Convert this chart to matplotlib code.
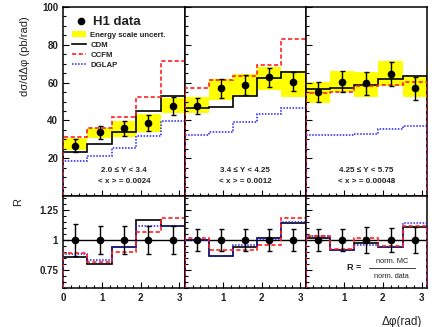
import numpy as np
import matplotlib
matplotlib.use("Agg")
import matplotlib.pyplot as plt
from matplotlib.lines import Line2D
from matplotlib.patches import Patch
from matplotlib.ticker import MultipleLocator

plt.rcParams['font.family'] = ['Liberation Sans', 'DejaVu Sans']
plt.rcParams['font.weight'] = 'bold'

# Data
phi_edges = [0.0, 0.628, 1.257, 1.885, 2.513, 3.142]
phi_centres = [0.314, 0.942, 1.571, 2.199, 2.827]

y_ranges = ["2.0 \u2264 Y < 3.4", "3.4 \u2264 Y < 4.25", "4.25 \u2264 Y < 5.75"]
mean_x = ["< x > = 0.0024", "< x > = 0.0012", "< x > = 0.00048"]

h1_data = [[26.6, 33.7, 35.8, 38.5, 47.6],
           [47.8, 57.0, 58.7, 62.8, 60.5],
           [55.2, 60.5, 59.6, 64.6, 57.0]]
h1_err = [[3.3, 3.3, 4.0, 4.3, 4.8],
          [4.2, 4.9, 5.1, 5.0, 5.0],
          [5.2, 5.5, 6.2, 6.4, 6.2]]
escale_lo = [[24.3, 30.8, 31.4, 33.7, 44.0],
             [43.7, 50.8, 53.1, 56.1, 52.5],
             [49.0, 55.2, 52.5, 58.2, 52.5]]
escale_hi = [[30.5, 36.1, 39.7, 43.2, 51.7],
             [52.5, 61.7, 64.6, 68.4, 66.1],
             [60.5, 66.1, 65.8, 71.6, 63.5]]
cdm = [[23.4, 27.3, 33.7, 45.0, 52.9],
       [46.4, 47.3, 53.1, 62.3, 65.8],
       [56.6, 57.0, 58.7, 61.7, 63.5]]
ccfm = [[31.0, 36.1, 41.6, 52.5, 71.4],
        [57.0, 61.4, 63.5, 69.3, 82.9],
        [54.3, 54.9, 58.2, 58.7, 60.5]]
dglap = [[18.5, 21.3, 25.2, 31.9, 39.8],
         [32.3, 34.0, 39.0, 43.2, 46.4],
         [32.3, 32.3, 32.6, 35.3, 37.0]]

r_data = [[1.0, 1.0, 1.0, 1.0, 1.0]] * 3
r_err = [[0.13, 0.115, 0.115, 0.12, 0.115],
         [0.095, 0.095, 0.095, 0.093, 0.095],
         [0.09, 0.095, 0.11, 0.10, 0.11]]
r_cdm = [[0.86, 0.80, 0.945, 1.167, 1.117],
         [1.0, 0.87, 0.945, 1.02, 1.145],
         [1.02, 0.92, 0.978, 0.94, 1.105]]
r_ccfm = [[0.895, 0.815, 0.90, 1.064, 1.186],
          [1.014, 0.917, 0.92, 0.958, 1.186],
          [1.033, 0.925, 1.014, 0.95, 1.117]]
r_dglap = [[0.88, 0.833, 0.94, 1.117, 1.117],
           [1.0, 0.87, 0.958, 1.008, 1.15],
           [1.03, 0.92, 0.958, 0.94, 1.14]]

RED = "#ff2020"
BLUE = "#2020ff"
YELLOW = "#ffff00"
TXT = "#222222"

W, H = 434, 327
fig = plt.figure(figsize=(W / 100, H / 100), dpi=100)

def px_axes(x0, y0, x1, y1):
    return fig.add_axes([x0 / W, 1 - y1 / H, (x1 - x0) / W, (y1 - y0) / H])

panel_x = [(63, 185), (185, 305.5), (305.5, 427)]
bw = np.diff(phi_edges)

def style(ax, show_y, show_x, first):
    ax.set_xlim(0, 3.142)
    ax.tick_params(which='both', direction='in', top=False, right=False,
                   colors='black', labelcolor=TXT, labelsize=7, width=0.8)
    ax.tick_params(which='major', length=4)
    ax.tick_params(which='minor', length=2)
    ax.xaxis.set_major_locator(MultipleLocator(1))
    ax.xaxis.set_minor_locator(MultipleLocator(0.2))
    for s in ax.spines.values():
        s.set_linewidth(1.1)
    if not show_y:
        ax.set_yticklabels([])
    if not show_x:
        ax.set_xticklabels([])
    elif not first:
        ax.set_xticks([1, 2, 3])

for i in range(3):
    x0, x1 = panel_x[i]
    ax = px_axes(x0, 7, x1, 196)
    ax.bar(phi_edges[:-1], np.subtract(escale_hi[i], escale_lo[i]), width=bw,
           bottom=escale_lo[i], align='edge', color=YELLOW, lw=0, zorder=1)
    ax.stairs(cdm[i], phi_edges, baseline=0, color='black', lw=1.2, zorder=3)
    ax.stairs(dglap[i], phi_edges, baseline=0, color=BLUE, lw=1.1,
              ls=(0, (1, 1)), zorder=3)
    ax.stairs(ccfm[i], phi_edges, baseline=0, color=RED, lw=1.2,
              ls=(0, (2.5, 1.5)), zorder=3)
    ax.errorbar(phi_centres, h1_data[i], yerr=h1_err[i], fmt='o', color='black',
                ms=4.5, elinewidth=1.0, capsize=1.8, capthick=1.0, zorder=4)
    ax.set_ylim(0, 100)
    ax.set_yticks([20, 40, 60, 80, 100])
    ax.yaxis.set_minor_locator(MultipleLocator(5))
    style(ax, i == 0, False, i == 0)
    ax.text(0.5, 0.135, y_ranges[i], transform=ax.transAxes, ha='center',
            va='center', fontsize=5.8, color=TXT)
    ax.text(0.5, 0.075, mean_x[i], transform=ax.transAxes, ha='center',
            va='center', fontsize=5.8, color=TXT)
    if i == 0:
        ax.set_ylabel("d\u03c3/d\u0394\u03c6 (pb/rad)", fontsize=8, color=TXT)
        ax.yaxis.set_label_coords(-0.27, 0.74)
        h_data = Line2D([], [], marker='o', color='black', ls='none', ms=4.5)
        leg1 = ax.legend([h_data], ["H1 data"], loc='upper left',
                         bbox_to_anchor=(0.02, 1.0), frameon=False,
                         prop={'size': 9.5, 'weight': 'bold'},
                         handlelength=1.0, handletextpad=0.4, borderaxespad=0.3)
        leg1.get_texts()[0].set_color(TXT)
        ax.add_artist(leg1)
        handles = [Patch(color=YELLOW, lw=0),
                   Line2D([], [], color='black', lw=1.2),
                   Line2D([], [], color=RED, lw=1.2, ls=(0, (2.5, 1.5))),
                   Line2D([], [], color=BLUE, lw=1.1, ls=(0, (1, 1)))]
        leg2 = ax.legend(handles, ["Energy scale uncert.", "CDM", "CCFM", "DGLAP"],
                         loc='upper left', bbox_to_anchor=(0.07, 0.875),
                         frameon=False, prop={'size': 5.6, 'weight': 'bold'},
                         handlelength=1.9, handleheight=0.9, handletextpad=0.5,
                         labelspacing=0.3, borderaxespad=0.0, borderpad=0.0)
        for t in leg2.get_texts():
            t.set_color(TXT)

    rx = px_axes(x0, 196, x1, 288)
    rx.axhline(1.0, color='black', lw=1.0, zorder=2)
    rx.stairs(r_cdm[i], phi_edges, baseline=0, color='black', lw=1.2, zorder=3)
    rx.stairs(r_dglap[i], phi_edges, baseline=0, color=BLUE, lw=1.1,
              ls=(0, (1, 1)), zorder=3)
    rx.stairs(r_ccfm[i], phi_edges, baseline=0, color=RED, lw=1.2,
              ls=(0, (2.5, 1.5)), zorder=3)
    rx.errorbar(phi_centres, r_data[i], yerr=r_err[i], fmt='o', color='black',
                ms=4.5, elinewidth=1.0, capsize=1.8, capthick=1.0, zorder=4)
    rx.set_ylim(0.6, 1.367)
    rx.set_yticks([0.75, 1.0, 1.25])
    rx.set_yticklabels(["0.75", "1", "1.25"])
    rx.yaxis.set_minor_locator(MultipleLocator(0.05))
    style(rx, i == 0, True, i == 0)
    if i == 0:
        rx.set_ylabel("R", fontsize=8, color=TXT)
        rx.yaxis.set_label_coords(-0.33, 0.93)
    if i == 2:
        rx.text(0.34, 0.22, "R =", transform=rx.transAxes, ha='left',
                va='center', fontsize=6.5, color=TXT)
        rx.text(0.71, 0.29, "norm. MC", transform=rx.transAxes, ha='center',
                va='center', fontsize=5.3, color=TXT, fontweight='normal')
        rx.text(0.71, 0.13, "norm. data", transform=rx.transAxes, ha='center',
                va='center', fontsize=5.3, color=TXT, fontweight='normal')
        rx.plot([0.52, 0.9], [0.215, 0.215], transform=rx.transAxes,
                color=TXT, lw=0.6)
        rx.set_xlabel("\u0394\u03c6(rad)", fontsize=8.5, color=TXT)
        rx.xaxis.set_label_coords(0.79, -0.3)

fig.savefig("out.png", dpi=100)
